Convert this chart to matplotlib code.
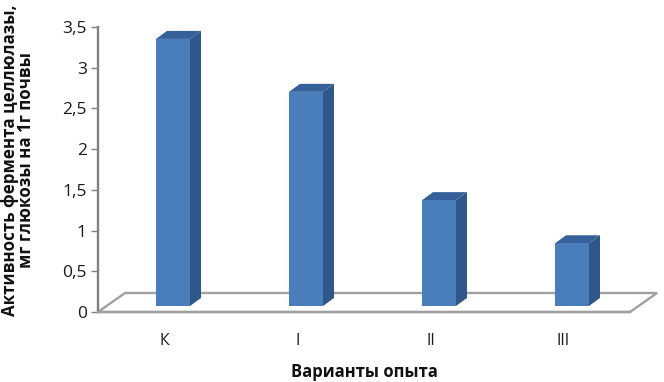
import matplotlib
matplotlib.use('Agg')
import matplotlib.pyplot as plt
from matplotlib.patches import Polygon
from matplotlib.ticker import FuncFormatter

categories = ['К', 'I', 'II', 'III']
values = [3.28, 2.63, 1.30, 0.77]
yticks = [0, 0.5, 1, 1.5, 2, 2.5, 3, 3.5]

W, H = 664, 382
plt.rcParams['font.family'] = ['Open Sans', 'DejaVu Sans']

fig = plt.figure(figsize=(W/100, H/100), dpi=100)
ax = fig.add_axes([98/W, (H-312)/H, 532/W, 285/H])
ax.set_xlim(-0.5, 3.5)
ax.set_ylim(0, 3.5)

# depth of the fake 3d, in data units
bar_w = 34/133
bar_off = 8.5/133
base = 6/81.4
dx = 11/133
dy = 8/81.4
floor_dx = 27/133
floor_dy = 19/81.4

# floor
ax.add_patch(Polygon([(-0.5, 0), (-0.5+floor_dx, floor_dy), (3.5+floor_dx, floor_dy), (3.5, 0)],
                     closed=True, fill=False, edgecolor='#a0a0a0', lw=1.7, clip_on=False, zorder=1))

for i, v in enumerate(values):
    x0 = i + bar_off - bar_w/2
    x1 = x0 + bar_w
    ax.bar(x0, v, width=bar_w, bottom=base, align='edge', color='#4a7ebb', zorder=3)
    top = base + v
    ax.add_patch(Polygon([(x1, base), (x1+dx, base+dy), (x1+dx, top+dy), (x1, top)],
                         closed=True, facecolor='#30578a', edgecolor='none', clip_on=False, zorder=2))
    ax.add_patch(Polygon([(x0, top), (x0+dx, top+dy), (x1+dx, top+dy), (x1, top)],
                         closed=True, facecolor='#35609a', edgecolor='none', clip_on=False, zorder=2))

for s in ['top', 'right']:
    ax.spines[s].set_visible(False)
ax.spines['left'].set_color('#808080')
ax.spines['left'].set_linewidth(1.7)
ax.spines['bottom'].set_color('#a0a0a0')
ax.spines['bottom'].set_linewidth(1.7)

ax.set_yticks(yticks)
ax.yaxis.set_major_formatter(FuncFormatter(lambda y, p: f'{y:g}'.replace('.', ',')))
ax.tick_params(axis='y', length=5, width=1, color='#808080', labelsize=12.5, labelcolor='#1a1a1a', pad=3)
ax.set_xticks(range(len(categories)))
ax.set_xticklabels(categories)
ax.tick_params(axis='x', length=0, labelsize=11.5, labelcolor='#1a1a1a', pad=15)

fig.text(364/W, 1-372/H, 'Варианты опыта', ha='center', va='center', fontsize=12, fontweight='bold', color='#111111')
fig.text(18/W, 1-160/H, 'Активность фермента целлюлазы,\nмг глюкозы на 1г почвы', rotation=90,
         ha='center', va='center', ma='center', fontsize=12.2, fontweight='bold', color='#111111', linespacing=0.9)

fig.savefig('out.png', dpi=100)
